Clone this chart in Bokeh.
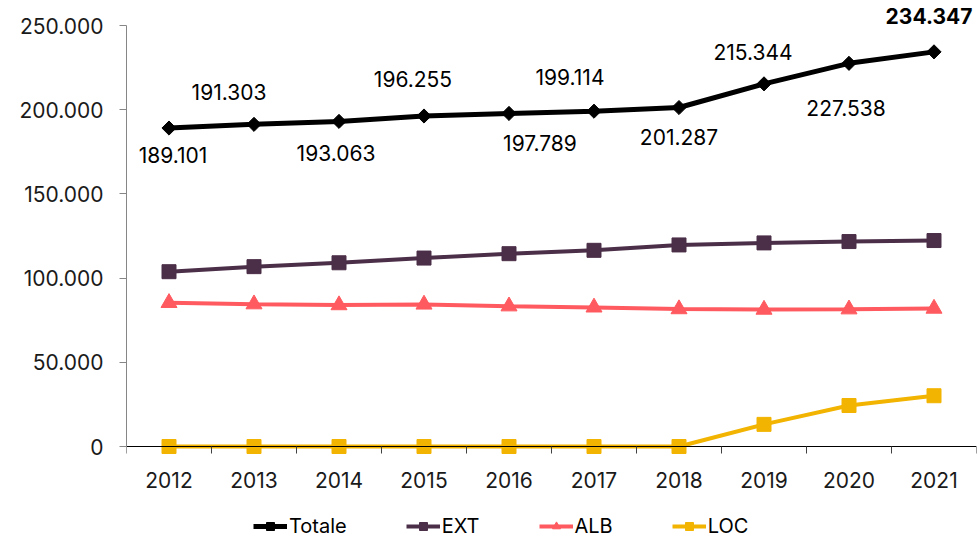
import math
from bokeh.plotting import figure
from bokeh.layouts import column
from bokeh.models import (ColumnDataSource, FixedTicker, CustomJSTickFormatter, Range1d,
                          Legend, LegendItem)
from bokeh.core.properties import value
from bokeh.embed import file_html
from bokeh.resources import INLINE

years = [2012, 2013, 2014, 2015, 2016, 2017, 2018, 2019, 2020, 2021]
totale = [189101, 191303, 193063, 196255, 197789, 199114, 201287, 215344, 227538, 234347]
ext = [103800, 106800, 109100, 111900, 114500, 116500, 119700, 120900, 121700, 122300]
alb = [85301, 84503, 83963, 84355, 83289, 82614, 81587, 81300, 81500, 81900]
loc = [0, 0, 0, 0, 0, 0, 0, 13144, 24338, 30147]
label_text = ["189.101", "191.303", "193.063", "196.255", "197.789",
              "199.114", "201.287", "215.344", "227.538", "234.347"]
y_ticks = [0, 50000, 100000, 150000, 200000, 250000]

# label placement (screen pixel offsets relative to each point) - style only
label_dx = [4, -25, -3, -11, 31, -24, 0, -11, -3, -5]
label_dy = [27, -32, 32, -37, 30, -34, 29, -32, 45, -36]
label_weight = ["normal"] * 9 + ["bold"]

FONT = "Inter"
FS = "21px"
C_TOT = "#000000"
C_EXT = "#4B2E48"
C_ALB = "#FF5A5F"
C_LOC = "#F2B400"

W, H = 978, 500
AXIS_Y = 446         # pixel row of the zero line
BELOW_PX = H - AXIS_Y  # frame reaches the figure bottom so year labels are not cut
TOP_PX = 25          # pixels between frame top and the 250.000 line
PX_PER_UNIT = (AXIS_Y - TOP_PX) / y_ticks[-1]
y_start = -BELOW_PX / PX_PER_UNIT
y_end = y_ticks[-1] + TOP_PX / PX_PER_UNIT

p = figure(width=W, height=H, output_backend="svg", toolbar_location=None,
           x_range=Range1d(years[0] - 0.5, years[-1] + 0.5), y_range=Range1d(y_start, y_end),
           min_border_left=126, min_border_right=2, min_border_top=0,
           min_border_bottom=0)
p.outline_line_color = None
p.xgrid.visible = False
p.ygrid.visible = False

# axes
p.xaxis.fixed_location = 0
p.xaxis.ticker = FixedTicker(ticks=years, minor_ticks=[y - 0.5 for y in years] + [years[-1] + 0.5])
p.xaxis.major_tick_out = 0
p.xaxis.major_tick_in = 0
p.xaxis.minor_tick_out = 7
p.xaxis.minor_tick_in = 0
p.xaxis.minor_tick_line_color = "#404040"
p.xaxis.axis_line_color = "#000000"
p.xaxis.major_label_standoff = 18
p.xaxis.major_label_text_font = FONT
p.xaxis.major_label_text_font_size = FS
p.xaxis.major_label_text_color = "#1a1a1a"

p.yaxis.ticker = FixedTicker(ticks=y_ticks)
p.yaxis.bounds = (0, y_ticks[-1])
p.yaxis.formatter = CustomJSTickFormatter(
    code="return Math.round(tick).toString().replace(/\\B(?=(\\d{3})+(?!\\d))/g, '.');")
p.yaxis.major_tick_out = 7
p.yaxis.major_tick_in = 0
p.yaxis.minor_tick_out = 0
p.yaxis.minor_tick_in = 0
p.yaxis.axis_line_color = "#868686"
p.yaxis.major_tick_line_color = "#868686"
p.yaxis.major_label_standoff = 16
p.yaxis.major_label_text_font = FONT
p.yaxis.major_label_text_font_size = FS
p.yaxis.major_label_text_color = "#1a1a1a"

src = ColumnDataSource(dict(x=years, tot=totale, ext=ext, alb=alb, loc=loc, txt=label_text,
                            dx=label_dx, dy=label_dy, fw=label_weight))


def draw(fig):
    r = {}
    r["loc"] = [fig.line("x", "loc", source=src, color=C_LOC, line_width=4),
                fig.scatter("x", "loc", source=src, marker="square", size=14, color=C_LOC)]
    r["alb"] = [fig.line("x", "alb", source=src, color=C_ALB, line_width=4),
                fig.scatter("x", "alb", source=src, marker="triangle", size=16, color=C_ALB)]
    r["ext"] = [fig.line("x", "ext", source=src, color=C_EXT, line_width=4),
                fig.scatter("x", "ext", source=src, marker="square", size=14, color=C_EXT)]
    r["tot"] = [fig.line("x", "tot", source=src, color=C_TOT, line_width=5),
                fig.scatter("x", "tot", source=src, marker="square", size=10,
                            angle=math.pi / 4, color=C_TOT)]
    return r


draw(p)

p.text("x", "tot", text="txt", source=src, x_offset="dx", y_offset="dy",
       text_align="center", text_baseline="middle", text_font=value(FONT),
       text_font_size=FS, text_color="#000000", text_font_style="fw")

# legend strip below the chart (its renderers lie outside its own visible range)
lg = figure(width=W, height=40, output_backend="svg", toolbar_location=None,
            x_range=Range1d(0, 1), y_range=Range1d(0, 1),
            min_border_left=0, min_border_right=0, min_border_top=0, min_border_bottom=0)
lg.axis.visible = False
lg.grid.visible = False
lg.outline_line_color = None
rr = draw(lg)

legend = Legend(items=[
    LegendItem(label="Totale", renderers=rr["tot"]),
    LegendItem(label="EXT", renderers=rr["ext"]),
    LegendItem(label="ALB", renderers=rr["alb"]),
    LegendItem(label="LOC", renderers=rr["loc"]),
], orientation="horizontal", location=(127, 2))
legend.spacing = 59
legend.glyph_width = 34
legend.glyph_height = 20
legend.label_standoff = 2
legend.label_text_font = FONT
legend.label_text_font_size = "20px"
legend.label_text_color = "#000000"
legend.border_line_color = None
legend.background_fill_alpha = 0
legend.padding = 0
legend.margin = 0
lg.add_layout(legend, "center")

layout = column(p, lg, spacing=0)
open("out.html", "w").write(file_html(layout, INLINE))
